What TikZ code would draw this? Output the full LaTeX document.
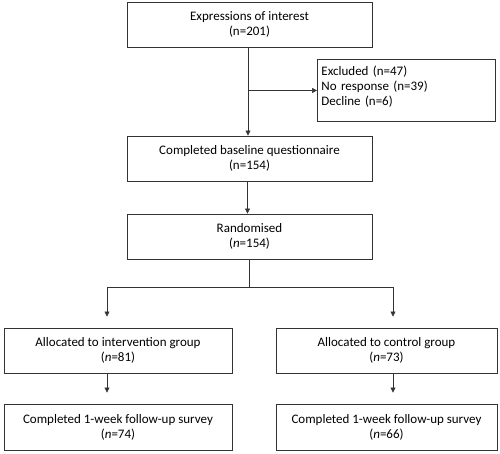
\documentclass[tikz,border=0pt]{standalone}
\usepackage{fontspec}
\setmainfont{Carlito}
\usepackage{tikz}
\usetikzlibrary{arrows.meta}

\begin{document}
\begin{tikzpicture}[x=1pt,y=1pt,
  box/.style={draw=black!80,line width=0.9pt,align=center,inner sep=2pt,
    font=\fontsize{13}{15}\selectfont},
  arr/.style={-{Triangle[length=5pt,width=5pt]},line width=0.6pt,black!80}]

  \useasboundingbox (0,0) rectangle (500,-453);

  %% Recruitment
  \node[box,minimum width=245,minimum height=45] (expr) at (249.5,-24.5)
    {Expressions of interest\\(n=201)};
  \node[box,align=left,anchor=north west,text width=170pt,inner xsep=4pt,
    inner ysep=6pt,text height=10pt,text depth=40pt] (excl) at (317,-59)
    {Excluded (n=47)\\No response (n=39)\\Decline (n=6)};
  \node[box,minimum width=245,minimum height=45] (base) at (249.5,-158.5)
    {Completed baseline questionnaire\\(n=154)};
  \node[box,minimum width=245,minimum height=45] (rand) at (249.5,-236.5)
    {Randomised\\(\textit{n}=154)};

  %% Allocation
  \node[box,minimum width=228,minimum height=45] (intv) at (118,-350.5)
    {Allocated to intervention group\\(\textit{n}=81)};
  \node[box,minimum width=221,minimum height=45] (ctrl) at (386.5,-350.5)
    {Allocated to control group\\(\textit{n}=73)};

  %% Follow-up
  \node[box,minimum width=228,minimum height=46] (fuI) at (118,-427)
    {Completed 1-week follow-up survey\\(\textit{n}=74)};
  \node[box,minimum width=221,minimum height=46] (fuC) at (386.5,-427)
    {Completed 1-week follow-up survey\\(\textit{n}=66)};

  % arrows
  \draw[arr] ([xshift=-1.5pt]expr.south) -- ([xshift=-1.5pt]base.north);
  \draw[arr] ([xshift=-1.5pt]expr.south |- excl.west) -- (excl.west);
  \draw[arr] ([xshift=-2pt]base.south) -- ([xshift=-2pt]rand.north);
  \draw[line width=0.6pt,black!80] (rand.south) -- ++(0,-28) coordinate (split);
  \draw[arr] (split) -| ([xshift=-11pt,yshift=11pt]intv.north);
  \draw[arr] (split) -| ([xshift=6.5pt,yshift=11pt]ctrl.north);
  \draw[arr] ([xshift=-11pt]intv.south) -- ([xshift=-11pt,yshift=11pt]fuI.north);
  \draw[arr] ([xshift=6.5pt]ctrl.south) -- ([xshift=6.5pt,yshift=11pt]fuC.north);

\end{tikzpicture}
\end{document}
